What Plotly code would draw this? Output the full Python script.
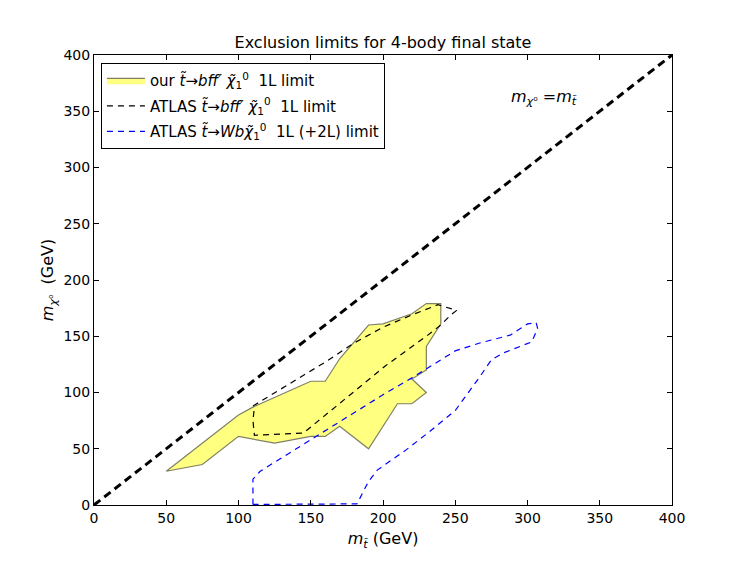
import plotly.graph_objects as go

# Our 4-body 1L exclusion region (polygon)
our_x = [50, 100, 110, 150, 160, 170, 190, 200, 220, 230, 240, 240, 230, 230, 220, 230, 220, 210, 190, 170, 160, 150, 125, 100, 75, 50]
our_y = [30, 80, 87, 110, 110, 130, 160, 161, 170, 179, 179, 161, 141, 120, 112, 100, 90, 90, 50, 70, 61, 61, 55, 61, 36, 30]

# ATLAS bff' 1L contour
atlas_bff_x = [110, 160, 180, 200, 220, 238, 251, 247, 240, 230, 202, 180, 160, 152, 145, 111, 110, 111]
atlas_bff_y = [88, 127, 144, 158, 169, 178, 173, 169, 160, 150, 124, 101, 80, 71, 64, 62, 75, 87]

# ATLAS Wb 1L (+2L) contour
atlas_wb_x = [110, 110, 115, 150, 177, 200, 220, 237, 250, 267, 288, 300, 306, 307, 303, 283, 275, 267, 250, 231, 216, 196, 190, 182, 110]
atlas_wb_y = [0.5, 23, 30, 58, 80, 98, 113, 127, 137, 144, 151, 161, 162, 157, 145, 135, 129, 114, 84, 64, 49, 31, 21, 1, 0.5]

diag_x = [0, 400]
diag_y = [0, 400]

ticks = [0, 50, 100, 150, 200, 250, 300, 350, 400]

FONT = "DejaVu Sans"

fig = go.Figure()

fig.add_trace(go.Scatter(
    x=our_x, y=our_y, mode="lines", fill="toself",
    fillcolor="rgb(255,255,128)",
    line=dict(color="rgb(128,128,100)", width=1.2),
    legendgroup="g1",
    name="our <i>t̃</i>→<i>bff′</i> <i>χ̃</i><sub>1</sub><sup>0</sup>  1L limit",
))
fig.add_trace(go.Scatter(
    x=atlas_bff_x, y=atlas_bff_y, mode="lines",
    line=dict(color="black", width=1.2, dash="6px,5px"),
    legendgroup="g2",
    name="ATLAS <i>t̃</i>→<i>bff′</i> <i>χ̃</i><sub>1</sub><sup>0</sup>  1L limit",
))
fig.add_trace(go.Scatter(
    x=atlas_wb_x, y=atlas_wb_y, mode="lines",
    line=dict(color="blue", width=1.2, dash="6px,5px"),
    legendgroup="g3",
    name="ATLAS <i>t̃</i>→<i>Wb</i><i>χ̃</i><sub>1</sub><sup>0</sup>  1L (+2L) limit",
))
fig.add_trace(go.Scatter(
    x=diag_x, y=diag_y, mode="lines",
    line=dict(color="black", width=3, dash="8px,5px"),
    showlegend=False,
))

fig.add_annotation(
    x=312, y=362, xref="x", yref="y", showarrow=False,
    text="<i>m</i><sub><i>χ</i>⁰</sub> =<i>m</i><sub><i>t̃</i></sub>",
    font=dict(family=FONT, size=16, color="black"),
)

axis_common = dict(
    range=[0, 400], tickvals=ticks, ticks="inside", ticklen=5,
    showline=True, linecolor="black", linewidth=1, mirror="ticks",
    showgrid=False, zeroline=False, tickcolor="black",
    tickfont=dict(family=FONT, size=14, color="black"),
)

fig.update_layout(
    width=747, height=561,
    margin=dict(l=86, r=83, t=47, b=64),
    paper_bgcolor="white", plot_bgcolor="white",
    title=dict(text="Exclusion limits for 4-body final state",
               x=0.5, xref="paper", xanchor="center", y=0.938, yanchor="middle",
               font=dict(family=FONT, size=16, color="black")),
    xaxis=dict(axis_common, title=dict(text="<i>m</i><sub><i>t̃</i></sub> (GeV)", standoff=8,
                                       font=dict(family=FONT, size=16, color="black"))),
    yaxis=dict(axis_common, title=dict(text="<i>m</i><sub><i>χ</i>⁰</sub>  (GeV)", standoff=5,
                                       font=dict(family=FONT, size=16, color="black"))),
    legend=dict(x=0.012, y=0.982, xanchor="left", yanchor="top",
                bordercolor="black", borderwidth=1, bgcolor="white",
                font=dict(family=FONT, size=15, color="black"),
                tracegroupgap=3, itemwidth=38),
    showlegend=True,
)

fig.write_html("out.html")
